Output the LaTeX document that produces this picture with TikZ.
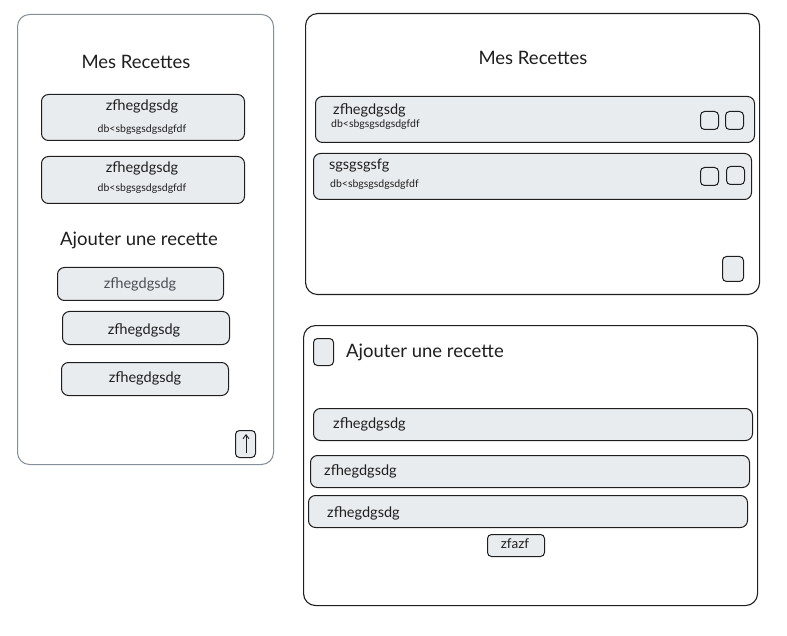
\documentclass[tikz,border=0pt]{standalone}
\usepackage{fontspec}
\setmainfont{Lato}
\usetikzlibrary{arrows.meta}
\definecolor{ink}{HTML}{1E1E1E}
\definecolor{boxfill}{HTML}{E9ECEF}
\definecolor{frameg}{HTML}{868E96}
\definecolor{txtgray}{HTML}{495057}
\tikzset{
  panel/.style={draw=ink, line width=1.1pt, rounded corners=12pt, inner sep=0pt, anchor=north west},
  graypanel/.style={draw=frameg, line width=1pt, rounded corners=12pt, inner sep=0pt, anchor=north west},
  card/.style={draw=ink, fill=boxfill, line width=1pt, rounded corners=7pt, inner sep=0pt, anchor=north west},
  sq/.style={draw=ink, fill=boxfill, line width=1pt, rounded corners=4pt, inner sep=0pt, anchor=north west},
  title/.style={text=ink, font=\fontsize{18.5}{22}\selectfont, inner sep=0pt},
  lbl/.style={text=ink, font=\fontsize{14.5}{17}\selectfont, inner sep=0pt},
  small/.style={text=ink, font=\fontsize{10.5}{12}\selectfont, inner sep=0pt},
}
\begin{document}
\begin{tikzpicture}[x=1pt,y=-1pt]
\useasboundingbox (0,0) rectangle (787,636);
% ---------- left panel ----------
\node[graypanel, minimum width=256pt, minimum height=450pt] (lp) at (17,14) {};
\node[title] (lt1) at (136,62) {Mes Recettes};
\node[card, minimum width=203pt, minimum height=46pt] (lc1) at (41,94) {};
\node[lbl] (lc1a) at (142,106) {zfhegdgsdg};
\node[small] (lc1b) at (142,130) {db<sbgsgsdgsdgfdf};
\node[card, minimum width=203pt, minimum height=47pt] (lc2) at (41,156) {};
\node[lbl] (lc2a) at (142,168) {zfhegdgsdg};
\node[small] (lc2b) at (142,189) {db<sbgsgsdgsdgfdf};
\node[title] (lt2) at (139,240) {Ajouter une recette};
\node[card, minimum width=166pt, minimum height=33pt] (li1) at (57,267) {};
\node[lbl, text=txtgray] (li1t) at (140,284) {zfhegdgsdg};
\node[card, minimum width=167pt, minimum height=33pt] (li2) at (62,311) {};
\node[lbl] (li2t) at (144,330) {zfhegdgsdg};
\node[card, minimum width=167pt, minimum height=33pt] (li3) at (61,362) {};
\node[lbl] (li3t) at (145,378) {zfhegdgsdg};
\node[sq, minimum width=20pt, minimum height=27pt] (lb) at (235,430) {};
\coordinate (lbtop) at (246,434);
\coordinate (lbbot) at (246,453);
\draw[ink, line width=0.9pt, -{Straight Barb[length=4pt,width=6pt]}] (lbbot) -- (lbtop);
% ---------- right top panel ----------
\node[panel, minimum width=454pt, minimum height=281pt] (rp) at (305,13) {};
\node[title] (rt1) at (533,58) {Mes Recettes};
\node[card, minimum width=439pt, minimum height=46pt] (rr1) at (315,96) {};
\node[lbl, anchor=west] (rr1a) at (333,110) {zfhegdgsdg};
\node[small, anchor=west] (rr1b) at (331,125) {db<sbgsgsdgsdgfdf};
\node[sq, minimum width=18pt, minimum height=18pt] (rr1s1) at (700,111) {};
\node[sq, minimum width=18pt, minimum height=18pt] (rr1s2) at (725,111) {};
\node[card, minimum width=438pt, minimum height=46pt] (rr2) at (313,153) {};
\node[lbl, anchor=west] (rr2a) at (329,166) {sgsgsgsfg};
\node[small, anchor=west] (rr2b) at (330,185) {db<sbgsgsdgsdgfdf};
\node[sq, minimum width=18pt, minimum height=18pt] (rr2s1) at (700,167) {};
\node[sq, minimum width=18pt, minimum height=18pt] (rr2s2) at (726,166) {};
\node[sq, minimum width=21pt, minimum height=25pt] (rb) at (722,256) {};
% ---------- right bottom panel ----------
\node[panel, minimum width=454pt, minimum height=280pt] (bp) at (303,325) {};
\node[sq, minimum width=20pt, minimum height=27pt] (bchk) at (313,338) {};
\node[title, anchor=west] (bt) at (346,352) {Ajouter une recette};
\node[card, minimum width=439pt, minimum height=32pt] (bi1) at (313,408) {};
\node[lbl, anchor=west] (bi1t) at (333,424) {zfhegdgsdg};
\node[card, minimum width=439pt, minimum height=32pt] (bi2) at (310,455) {};
\node[lbl, anchor=west] (bi2t) at (324,471) {zfhegdgsdg};
\node[card, minimum width=439pt, minimum height=32pt] (bi3) at (308,495) {};
\node[lbl, anchor=west] (bi3t) at (327,513) {zfhegdgsdg};
\node[sq, fill=boxfill, minimum width=57pt, minimum height=22pt] (bbtn) at (487,534) {};
\node[lbl, font=\fontsize{13.5}{16}\selectfont] (bbtnt) at (515,544) {zfazf};
\end{tikzpicture}
\end{document}
